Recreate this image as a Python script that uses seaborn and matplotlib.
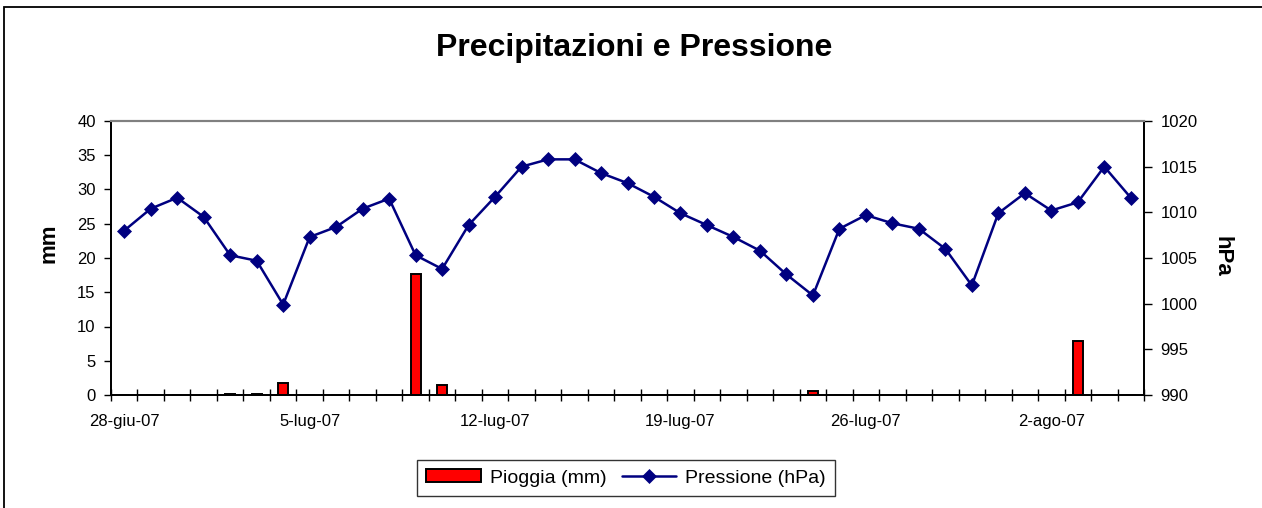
import matplotlib
matplotlib.use("Agg")
import matplotlib.pyplot as plt
from matplotlib.patches import Rectangle
import seaborn as sns
import pandas as pd
import numpy as np

# ---- data ----
days = ["28-giu-07", "29-giu-07", "30-giu-07", "1-lug-07", "2-lug-07", "3-lug-07",
        "4-lug-07", "5-lug-07", "6-lug-07", "7-lug-07", "8-lug-07", "9-lug-07",
        "10-lug-07", "11-lug-07", "12-lug-07", "13-lug-07", "14-lug-07", "15-lug-07",
        "16-lug-07", "17-lug-07", "18-lug-07", "19-lug-07", "20-lug-07", "21-lug-07",
        "22-lug-07", "23-lug-07", "24-lug-07", "25-lug-07", "26-lug-07", "27-lug-07",
        "28-lug-07", "29-lug-07", "30-lug-07", "31-lug-07", "1-ago-07", "2-ago-07",
        "3-ago-07", "4-ago-07", "5-ago-07"]
pioggia = [0, 0, 0, 0, 0.2, 0.2, 1.8, 0, 0, 0, 0, 17.6, 1.5, 0, 0, 0, 0, 0, 0, 0,
           0, 0, 0, 0, 0, 0, 0.6, 0, 0, 0, 0, 0, 0, 0, 0, 0, 7.9, 0, 0]
pressione = [1008.0, 1010.4, 1011.6, 1009.5, 1005.3, 1004.7, 999.9, 1007.3, 1008.4, 1010.4,
             1011.5, 1005.3, 1003.8, 1008.6, 1011.7, 1015.0, 1015.8, 1015.8, 1014.3, 1013.2,
             1011.7, 1009.9, 1008.6, 1007.3, 1005.8, 1003.2, 1000.9, 1008.2, 1009.7, 1008.8,
             1008.2, 1006.0, 1002.0, 1009.9, 1012.1, 1010.2, 1011.1, 1015.0, 1011.6]
tick_labels = ["28-giu-07", "5-lug-07", "12-lug-07", "19-lug-07", "26-lug-07", "2-ago-07"]
title = "Precipitazioni e Pressione"

df = pd.DataFrame({"giorno": days, "pos": np.arange(len(days)),
                   "pioggia": pioggia, "pressione": pressione})

sns.set_style("white")
plt.rcParams["font.family"] = ["Liberation Sans", "DejaVu Sans"]
plt.rcParams["text.color"] = "black"
plt.rcParams["axes.labelcolor"] = "black"
plt.rcParams["xtick.color"] = "black"
plt.rcParams["ytick.color"] = "black"

fig = plt.figure(figsize=(12.62, 5.08), dpi=100)
ax = fig.add_axes([111/1262, 1-395/508, (1144-111)/1262, (395-121)/508])

sns.barplot(data=df, x="giorno", y="pioggia", order=days, ax=ax, color="#FF0000",
            saturation=1, width=0.38, edgecolor="black", linewidth=1.4,
            label="Pioggia (mm)", errorbar=None)
ax2 = ax.twinx()
sns.lineplot(data=df, x="pos", y="pressione", ax=ax2, color="#000080", lw=1.8,
             marker="D", markersize=7, markeredgecolor="#000080", markeredgewidth=0.5,
             label="Pressione (hPa)")

for a in (ax, ax2):
    lg = a.get_legend()
    if lg is not None:
        lg.remove()

ax.set_xlim(-0.5, len(days) - 0.5)
ax.set_ylim(0, 40)
ax.set_yticks(np.arange(0, 41, 5))
ax2.set_ylim(990, 1020)
ax2.set_yticks(np.arange(990, 1021, 5))

ax.set_xticks(np.arange(0, len(days), 7))
ax.set_xticklabels(tick_labels)
ax.set_xticks(np.arange(-0.5, len(days), 1), minor=True)
ax.tick_params(axis="x", which="major", length=0, pad=14, labelsize=12, bottom=True)
ax.tick_params(axis="x", which="minor", length=9, direction="inout", width=1,
               color="black", bottom=True)
ax.tick_params(axis="y", length=5, width=1, direction="out", color="black", pad=6,
               labelsize=12, left=True)
ax2.tick_params(axis="y", length=6, width=1, direction="out", color="black", pad=6,
                labelsize=12, right=True)
ax.set_xlabel("")

for a in (ax, ax2):
    for s in ("left", "bottom", "right"):
        a.spines[s].set_color("black")
        a.spines[s].set_linewidth(1.3)
    a.spines["top"].set_color("#808080")
    a.spines["top"].set_linewidth(1.5)

ax.set_ylabel("mm", fontsize=16, fontweight="bold")
ax.yaxis.label.set_ha("center")
ax.yaxis.label.set_va("center")
ax.yaxis.set_label_coords((49-111)/1033, (395-243)/274)
ax2.set_ylabel("hPa", fontsize=16, fontweight="bold", rotation=-90)
ax2.yaxis.label.set_ha("center")
ax2.yaxis.label.set_va("center")
ax2.yaxis.set_label_coords((1222-111)/1033, (395-256)/274)

fig.suptitle(title, x=634/1262, y=1-48/508, va="center", fontsize=23, fontweight="bold")

h1, l1 = ax.get_legend_handles_labels()
h2, l2 = ax2.get_legend_handles_labels()
leg = fig.legend(h1 + h2, l1 + l2, loc="center", bbox_to_anchor=(626/1262, 1-478/508),
                 ncol=2, fontsize=14, frameon=True, fancybox=False, shadow=False,
                 handlelength=2.8, handleheight=0.6, columnspacing=0.8,
                 handletextpad=0.45, borderpad=0.5, borderaxespad=0)
leg.get_frame().set_edgecolor("black")
leg.get_frame().set_linewidth(1.0)

fig.patches.append(Rectangle((4/1262, -0.1), 1.2, 1.1 - 7/508, transform=fig.transFigure,
                             fill=False, edgecolor="black", linewidth=1.3))

fig.savefig("out.png", dpi=100)
